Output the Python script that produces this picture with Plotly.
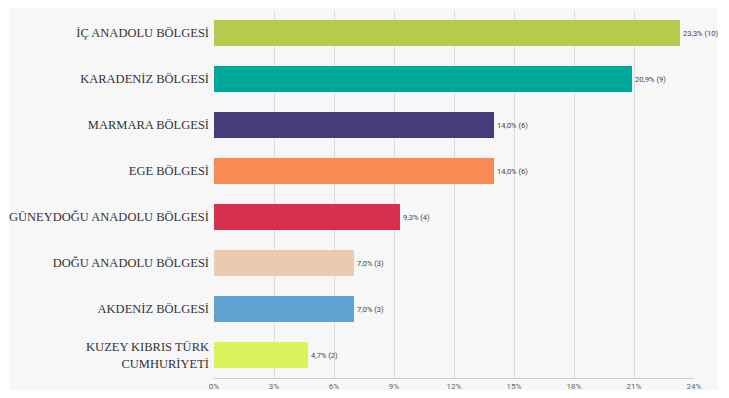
import plotly.graph_objects as go

categories = [
    "İÇ ANADOLU BÖLGESİ",
    "KARADENİZ BÖLGESİ",
    "MARMARA BÖLGESİ",
    "EGE BÖLGESİ",
    "GÜNEYDOĞU ANADOLU BÖLGESİ",
    "DOĞU ANADOLU BÖLGESİ",
    "AKDENİZ BÖLGESİ",
    "KUZEY KIBRIS TÜRK<br>CUMHURİYETİ",
]
percents = [23.3, 20.9, 14.0, 14.0, 9.3, 7.0, 7.0, 4.7]
counts = [10, 9, 6, 6, 4, 3, 3, 2]
colors = ["#b5cb4e", "#00a899", "#463b7b", "#f98a53", "#d6304e",
          "#ebcab0", "#60a3d2", "#d9f55b"]
tick_values = [0, 3, 6, 9, 12, 15, 18, 21, 24]
tick_labels = [f"{v}%" for v in tick_values]

labels = [f"{p:.1f}".replace(".", ",") + f"% ({c})" for p, c in zip(percents, counts)]

# page has an 8px body margin; size figure so no scrollbars appear
W, H = 713, 382
L, T = 206, 2
PW = 480
PH = 368
R = W - L - PW
B = H - T - PH

SANS = "Roboto, sans-serif"

fig = go.Figure(go.Bar(
    x=percents,
    y=categories,
    orientation="h",
    marker=dict(color=colors, line=dict(width=0)),
    text=labels,
    textposition="outside",
    textfont=dict(family=SANS, size=7.5, color="#444"),
    cliponaxis=False,
    hoverinfo="skip",
))

fig.update_layout(
    width=W,
    height=H,
    margin=dict(l=L, r=R, t=T, b=B),
    paper_bgcolor="white",
    plot_bgcolor="rgba(0,0,0,0)",
    bargap=0.43,
    showlegend=False,
    shapes=[dict(
        type="rect", xref="paper", yref="paper",
        x0=(2 - L) / PW, x1=(709 - L) / PW,
        y0=(T + PH - 390) / PH, y1=(T + PH) / PH,
        fillcolor="#f7f7f7", line=dict(width=0), layer="below",
    )],
    xaxis=dict(
        range=[0, 24],
        tickvals=tick_values,
        ticktext=tick_labels,
        tickfont=dict(family=SANS, size=8, color="#666"),
        showgrid=True,
        gridcolor="#dcdcdc",
        gridwidth=1,
        zeroline=False,
        showline=True,
        linecolor="#d0d0d0",
        linewidth=1,
        ticks="",
        ticklabelstandoff=0,
        fixedrange=True,
        automargin=False,
    ),
    yaxis=dict(
        categoryorder="array",
        categoryarray=categories[::-1],
        autorange=False,
        range=[-0.5, 7.5],
        tickfont=dict(family="Liberation Serif", size=12.5, color="#333"),
        ticks="",
        ticklabelstandoff=4,
        showgrid=False,
        zeroline=False,
        showline=False,
        fixedrange=True,
        automargin=False,
    ),
)

fig.write_html("out.html")
